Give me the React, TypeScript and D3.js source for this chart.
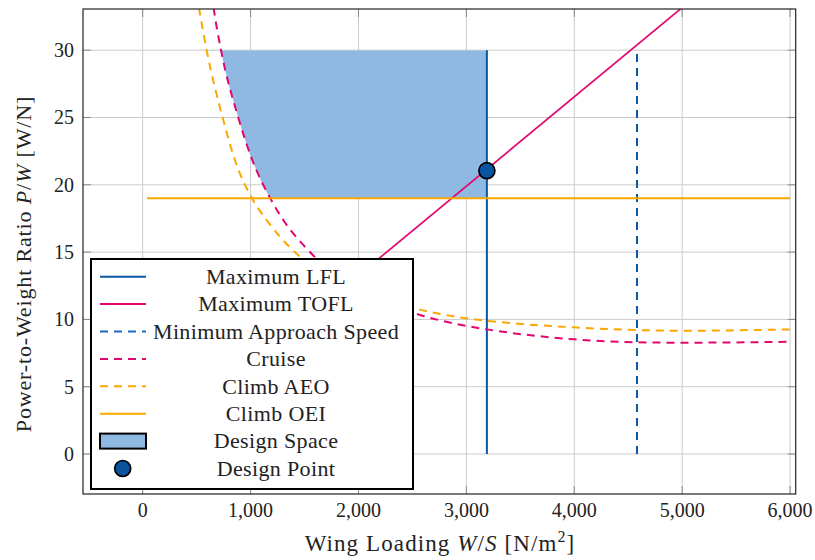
import * as d3 from "d3";

// axis ticks
const xTicks = [0, 1000, 2000, 3000, 4000, 5000, 6000];
const yTicks = [0, 5, 10, 15, 20, 25, 30];

// constraint curves (W/S in N/m^2, P/W in W/N)
const cruiseWS = [640, 664, 726, 886, 1016, 1180, 1303, 1504, 2000, 2524, 3003, 3188, 4000, 4581, 5001, 6000];
const cruisePW = [34.2, 32.8, 30.0, 25.0, 21.84, 19.04, 17.38, 15.4, 12.2, 10.45, 9.51, 9.26, 8.52, 8.3, 8.27, 8.34];

const aeoWS = [500, 525, 593, 741, 855, 1010, 1149, 1359, 1458, 2000, 2524, 3003, 3188, 4000, 4581, 5001, 6000];
const aeoPW = [34.2, 33.0, 30.0, 25.0, 21.84, 19.04, 17.38, 15.4, 14.66, 12.2, 10.82, 10.08, 9.9, 9.41, 9.21, 9.16, 9.26];

const toflWS = [0, 6000];
const toflPW = [0, 39.8];

const oeiWS = [40, 6000];
const oeiPW = [19, 19];

const lflWS = [3190, 3190];
const lflPW = [0, 30];

const approachWS = [4581, 4581];
const approachPW = [0, 30];

const designSpaceTop = 30;
const designSpaceBottom = 19;
const designSpaceRight = 3190;

const designPointWS = 3190;
const designPointPW = 21.05;

const legendLabels = [
  "Maximum LFL",
  "Maximum TOFL",
  "Minimum Approach Speed",
  "Cruise",
  "Climb AEO",
  "Climb OEI",
  "Design Space",
  "Design Point",
];

const BLUE = "#0a57a3";
const MAGENTA = "#e2066f";
const ORANGE = "#f9a800";
const FILL = "#8fb8e3";
const FONT = "'Liberation Serif', 'Times New Roman', serif";

export default function App() {
  const width = 815;
  const height = 560;
  const left = 83, right = 795.7, top = 9, bottom = 494;

  const x = d3.scaleLinear().domain([-553, 6052]).range([left, right]);
  const y = d3.scaleLinear().domain([-2.97, 33.06]).range([bottom, top]);

  const smooth = d3
    .line<[number, number]>()
    .x((d) => x(d[0]))
    .y((d) => y(d[1]))
    .curve(d3.curveMonotoneX);
  const straight = d3
    .line<[number, number]>()
    .x((d) => x(d[0]))
    .y((d) => y(d[1]));

  const cruise = d3.zip(cruiseWS, cruisePW) as [number, number][];
  const aeo = d3.zip(aeoWS, aeoPW) as [number, number][];
  const tofl = d3.zip(toflWS, toflPW) as [number, number][];
  const oei = d3.zip(oeiWS, oeiPW) as [number, number][];
  const lfl = d3.zip(lflWS, lflPW) as [number, number][];
  const approach = d3.zip(approachWS, approachPW) as [number, number][];

  // area above the cruise curve, clipped to the feasible box
  const space = d3
    .area<[number, number]>()
    .x((d) => x(d[0]))
    .y0((d) => y(d[1]))
    .y1(() => y(designSpaceTop))
    .curve(d3.curveMonotoneX);

  const fmt = d3.format(",");
  const tickLen = 8;

  const lx = 91, ly = 259, lw = 322, lh = 230;
  const rowH = 27.4;
  const legendStyles = [
    { kind: "line", color: BLUE, dash: "" },
    { kind: "line", color: MAGENTA, dash: "" },
    { kind: "line", color: "#1a6cc0", dash: "8,6" },
    { kind: "line", color: MAGENTA, dash: "8,6" },
    { kind: "line", color: ORANGE, dash: "8,6" },
    { kind: "line", color: ORANGE, dash: "" },
    { kind: "rect" },
    { kind: "dot" },
  ];

  return (
    <svg
      width={width}
      height={height}
      style={{ position: "absolute", left: 0, top: 0, background: "#fff" }}
      fontFamily={FONT}
    >
      <defs>
        <clipPath id="plot">
          <rect x={left} y={top} width={right - left} height={bottom - top} />
        </clipPath>
        <clipPath id="space">
          <rect
            x={left}
            y={y(designSpaceTop)}
            width={x(designSpaceRight) - left}
            height={y(designSpaceBottom) - y(designSpaceTop)}
          />
        </clipPath>
      </defs>

      {/* grid */}
      <g stroke="#cbcbcb" strokeWidth={1}>
        {xTicks.map((t) => (
          <line key={t} x1={x(t)} x2={x(t)} y1={top} y2={bottom} />
        ))}
        {yTicks.map((t) => (
          <line key={t} x1={left} x2={right} y1={y(t)} y2={y(t)} />
        ))}
      </g>

      <g clipPath="url(#plot)" fill="none">
        <g clipPath="url(#space)">
          <path d={space(cruise) ?? ""} fill={FILL} stroke="none" />
        </g>
        <path d={straight(lfl) ?? ""} stroke={BLUE} strokeWidth={2} />
        <path d={straight(tofl) ?? ""} stroke={MAGENTA} strokeWidth={1.7} />
        <path d={straight(approach) ?? ""} stroke={BLUE} strokeWidth={2} strokeDasharray="8,6" />
        <path d={smooth(cruise) ?? ""} stroke={MAGENTA} strokeWidth={2} strokeDasharray="8,6" />
        <path d={smooth(aeo) ?? ""} stroke={ORANGE} strokeWidth={2} strokeDasharray="8,6" />
        <path d={straight(oei) ?? ""} stroke={ORANGE} strokeWidth={2} />
        <circle
          cx={x(designPointWS)}
          cy={y(designPointPW)}
          r={8}
          fill="#0a55a0"
          stroke="#000"
          strokeWidth={1.7}
        />
      </g>

      {/* tick marks */}
      <g stroke="#8a8a8a" strokeWidth={1}>
        {xTicks.map((t) => (
          <g key={t}>
            <line x1={x(t)} x2={x(t)} y1={bottom} y2={bottom - tickLen} />
            <line x1={x(t)} x2={x(t)} y1={top} y2={top + tickLen} />
          </g>
        ))}
        {yTicks.map((t) => (
          <g key={t}>
            <line x1={left} x2={left + tickLen} y1={y(t)} y2={y(t)} />
            <line x1={right} x2={right - tickLen} y1={y(t)} y2={y(t)} />
          </g>
        ))}
      </g>

      <rect x={left} y={top} width={right - left} height={bottom - top} fill="none" stroke="#222" strokeWidth={1.2} />

      {/* tick labels */}
      <g fontSize={20} fill="#222">
        {xTicks.map((t) => (
          <text key={t} x={x(t)} y={516.5} textAnchor="middle">
            {fmt(t)}
          </text>
        ))}
        {yTicks.map((t) => (
          <text key={t} x={74} y={y(t)} dy="0.35em" textAnchor="end">
            {t}
          </text>
        ))}
      </g>

      {/* axis labels */}
      <text x={440} y={551} textAnchor="middle" fontSize={23} letterSpacing={1.1} fill="#222">
        Wing Loading <tspan fontStyle="italic">W</tspan>/<tspan fontStyle="italic">S</tspan> [N/m
        <tspan fontSize={16} dy={-9}>2</tspan>
        <tspan dy={9}>]</tspan>
      </text>
      <text
        transform={`translate(31, 264) rotate(-90)`}
        textAnchor="middle"
        fontSize={22}
        letterSpacing={0.85}
        fill="#222"
      >
        Power-to-Weight Ratio <tspan fontStyle="italic">P</tspan>/<tspan fontStyle="italic">W</tspan> [W/N]
      </text>

      {/* legend */}
      <g>
        <rect x={lx} y={ly} width={lw} height={lh} fill="#fff" stroke="#000" strokeWidth={2} />
        {legendLabels.map((label, i) => {
          const cy = ly + 17.7 + i * rowH;
          const s = legendStyles[i];
          return (
            <g key={label}>
              {s.kind === "line" && (
                <line
                  x1={100}
                  x2={146}
                  y1={cy}
                  y2={cy}
                  stroke={s.color}
                  strokeWidth={2}
                  strokeDasharray={s.dash || undefined}
                />
              )}
              {s.kind === "rect" && (
                <rect x={100} y={cy - 7.5} width={46} height={15} fill={FILL} stroke="#000" strokeWidth={2} />
              )}
              {s.kind === "dot" && (
                <circle cx={122.7} cy={cy} r={8} fill="#0a55a0" stroke="#000" strokeWidth={1.7} />
              )}
              <text x={276} y={cy} dy="0.33em" textAnchor="middle" fontSize={22} letterSpacing={0.35} fill="#222">
                {label}
              </text>
            </g>
          );
        })}
      </g>
    </svg>
  );
}
